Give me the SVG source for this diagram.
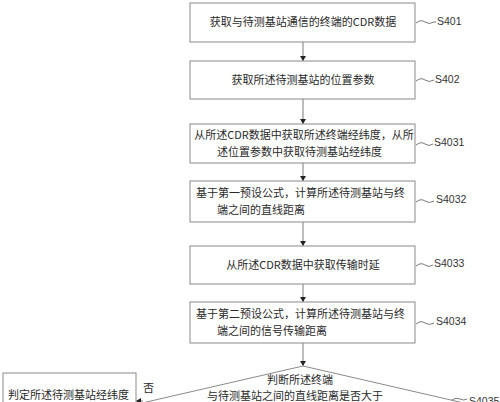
<svg xmlns="http://www.w3.org/2000/svg" width="500" height="402" viewBox="0 0 500 402">
<style>
.box{fill:#fff;stroke:#8a8a8a;stroke-width:1}
.t{font-family:"Noto Sans CJK SC","Liberation Serif",serif;font-size:11px;fill:#2a2a2a}
.c{text-anchor:middle}
.lbl{font-family:"Liberation Sans","Noto Sans",sans-serif;font-size:10.5px;fill:#333}
.ln{fill:none;stroke:#7a7a7a;stroke-width:1}
.sq{fill:none;stroke:#555;stroke-width:0.8}
</style>
<defs>
<marker id="ah" markerWidth="6" markerHeight="6" refX="5" refY="3" orient="auto" markerUnits="userSpaceOnUse">
<path d="M0,0 L5,3 L0,6 Z" fill="#222"/>
</marker>
</defs>
<rect width="500" height="402" fill="#fff"/>
<g id="connectors">
<line class="ln" x1="303" y1="42" x2="303" y2="61" marker-end="url(#ah)"/>
<line class="ln" x1="303" y1="99" x2="303" y2="124" marker-end="url(#ah)"/>
<line class="ln" x1="303" y1="163" x2="303" y2="181" marker-end="url(#ah)"/>
<line class="ln" x1="303" y1="222" x2="303" y2="246" marker-end="url(#ah)"/>
<line class="ln" x1="303" y1="284" x2="303" y2="302" marker-end="url(#ah)"/>
<line class="ln" x1="303" y1="343" x2="303" y2="366" marker-end="url(#ah)"/>
<line class="ln" x1="143" y1="401" x2="136" y2="401" marker-end="url(#ah)"/>
<text class="t" x="143" y="392">否</text>
</g>
<g id="n1">
<rect class="box" x="190" y="3" width="225" height="39"/>
<text class="t c" x="303" y="26">获取与待测基站通信的终端的CDR数据</text>
<path class="sq" d="M416,23 q5,-4 9,-1 t9,0 h2"/>
<text class="lbl" x="437" y="25">S401</text>
</g>
<g id="n2">
<rect class="box" x="190" y="61" width="225" height="38"/>
<text class="t c" x="303" y="84">获取所述待测基站的位置参数</text>
<path class="sq" d="M416,81 q5,-4 9,-1 t9,0"/>
<text class="lbl" x="435" y="83">S402</text>
</g>
<g id="n3">
<rect class="box" x="190" y="124" width="225" height="39"/>
<text class="t c" x="304" y="139">从所述CDR数据中获取所述终端经纬度，从所</text>
<text class="t" x="217" y="156">述位置参数中获取待测基站经纬度</text>
<path class="sq" d="M416,145 q5,-4 9,-1 t8,0"/>
<text class="lbl" x="434" y="146">S4031</text>
</g>
<g id="n4">
<rect class="box" x="190" y="181" width="225" height="41"/>
<text class="t" x="196" y="197">基于第一预设公式，计算所述待测基站与终</text>
<text class="t" x="217" y="214">端之间的直线距离</text>
<path class="sq" d="M416,202 q5,-4 9,-1 t9,0"/>
<text class="lbl" x="436" y="203">S4032</text>
</g>
<g id="n5">
<rect class="box" x="190" y="246" width="225" height="38"/>
<text class="t c" x="303" y="269">从所述CDR数据中获取传输时延</text>
<path class="sq" d="M416,266 q5,-4 9,-1 t8,0"/>
<text class="lbl" x="434" y="267">S4033</text>
</g>
<g id="n6">
<rect class="box" x="190" y="302" width="225" height="41"/>
<text class="t" x="196" y="318">基于第二预设公式，计算所述待测基站与终</text>
<text class="t" x="217" y="335">端之间的信号传输距离</text>
<path class="sq" d="M416,324 q5,-4 9,-1 t9,0"/>
<text class="lbl" x="436" y="325">S4034</text>
</g>
<g id="n7">
<polygon class="box" points="303,366 464,403 303,440 142,403"/>
<text class="t c" x="300" y="384">判断所述终端</text>
<text class="t c" x="295" y="400">与待测基站之间的直线距离是否大于</text>
<path class="sq" d="M452,400 q4,-3 8,-1 t7,0"/>
<text class="lbl" x="469" y="405">S4035</text>
</g>
<g id="n8">
<rect class="box" x="3" y="373" width="133" height="50"/>
<text class="t" x="8" y="399">判定所述待测基站经纬度</text>
</g>
</svg>
